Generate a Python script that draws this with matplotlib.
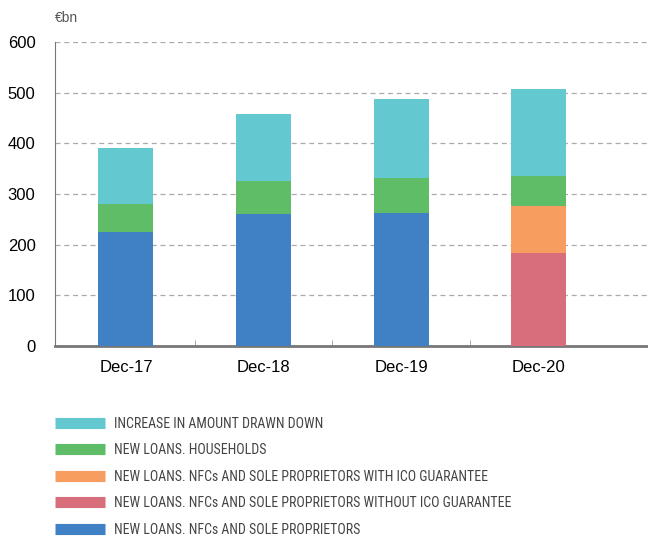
import numpy as np
import matplotlib.pyplot as plt
from matplotlib.lines import Line2D
from matplotlib import font_manager

fechas = ["Dec-17", "Dec-18", "Dec-19", "Dec-20"]
nfc = [225, 260, 262, 0]
nfc_sin_ico = [0, 0, 0, 183]
nfc_con_ico = [0, 0, 0, 93]
hogares = [55, 65, 69, 60]
dispuesto = [111, 133, 156, 171]

etiquetas = [
    "INCREASE IN AMOUNT DRAWN DOWN",
    "NEW LOANS. HOUSEHOLDS",
    "NEW LOANS. NFCs AND SOLE PROPRIETORS WITH ICO GUARANTEE",
    "NEW LOANS. NFCs AND SOLE PROPRIETORS WITHOUT ICO GUARANTEE",
    "NEW LOANS. NFCs AND SOLE PROPRIETORS",
]
colores = ["#63C8D0", "#5FBD68", "#F79D5F", "#D86E7B", "#4080C4"]

# fuente estrecha para la leyenda, si la hay
nombres = {f.name for f in font_manager.fontManager.ttflist}
if "Liberation Sans Narrow" in nombres:
    prop_leyenda = {"family": "Liberation Sans Narrow", "size": 10.4}
elif "Roboto Condensed" in nombres:
    prop_leyenda = {"family": "Roboto Condensed", "size": 10}
else:
    prop_leyenda = {"family": "DejaVu Sans", "stretch": "condensed", "size": 9}

plt.rcParams["font.family"] = ["Liberation Sans", "DejaVu Sans"]

fig = plt.figure(figsize=(6.48, 5.39), dpi=100)
ax = fig.add_axes([55 / 648, 1 - 346 / 539, 1 - 55 / 648, (346 - 42) / 539])

x = np.arange(len(fechas))
w = 0.4
series = [nfc, nfc_sin_ico, nfc_con_ico, hogares, dispuesto]
cols = [colores[4], colores[3], colores[2], colores[1], colores[0]]
base = np.zeros(len(fechas))
for vals, c in zip(series, cols):
    v = np.array(vals, dtype=float)
    ax.bar(x, v, w, bottom=base, color=c, edgecolor="none", zorder=3)
    base += v

ax.set_ylim(0, 600)
ax.set_xlim(-0.516, 3.796)
ax.set_yticks(np.arange(0, 601, 100))
ax.yaxis.grid(True, linestyle=(0, (4, 3)), color="#AAAAAA", lw=0.9, zorder=0)
ax.set_xticks(x)
ax.set_xticklabels(fechas, fontsize=12)
ax.tick_params(axis="x", length=0, pad=10)
ax.tick_params(axis="y", length=0, pad=14, labelsize=12)
ax.set_xticks([0.5, 1.5, 2.5], minor=True)
ax.tick_params(axis="x", which="minor", direction="in", length=4, color="#999999")
for s in ["top", "right"]:
    ax.spines[s].set_visible(False)
ax.spines["left"].set_color("#777777")
ax.spines["left"].set_linewidth(0.8)
ax.spines["bottom"].set_color("#777777")
ax.spines["bottom"].set_linewidth(2)

fig.text(55 / 648, 1 - 18 / 539, "€bn", fontsize=10, color="#555555", va="center")

handles = [Line2D([], [], color=c, lw=8, solid_capstyle="butt") for c in colores]
fig.legend(handles, etiquetas, loc="upper left", bbox_to_anchor=(49.5 / 648, 1 - 411 / 539),
           frameon=False, borderaxespad=0, handlelength=3.6, handletextpad=0.62,
           labelspacing=0.9, prop=prop_leyenda, labelcolor="#444444")

fig.savefig("out.png", dpi=100)
